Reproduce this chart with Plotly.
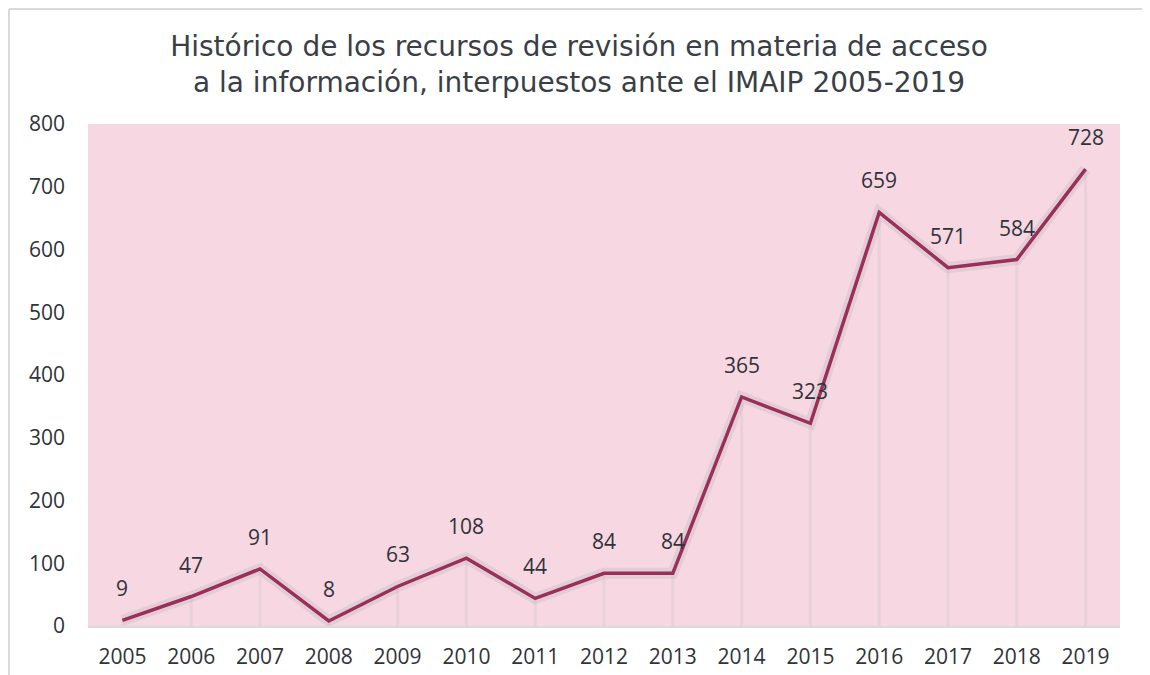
import plotly.graph_objects as go

years = ["2005", "2006", "2007", "2008", "2009", "2010", "2011", "2012",
         "2013", "2014", "2015", "2016", "2017", "2018", "2019"]
recursos = [9, 47, 91, 8, 63, 108, 44, 84, 84, 365, 323, 659, 571, 584, 728]
y_ticks = [0, 100, 200, 300, 400, 500, 600, 700, 800]

title_text = ("Histórico de los recursos de revisión en materia de acceso<br>"
              "a la información, interpuestos ante el IMAIP 2005-2019")

LINE = "#9C2E5A"
TXT = "#2F333A"

fig = go.Figure()

# drop lines from each point to the axis
drop_x, drop_y = [], []
for yr, v in zip(years, recursos):
    drop_x += [yr, yr, None]
    drop_y += [0, v, None]
fig.add_trace(go.Scatter(x=drop_x, y=drop_y, mode="lines",
                         line=dict(color="rgba(205,195,200,0.35)", width=3),
                         hoverinfo="skip", showlegend=False))

# soft glow under the line
fig.add_trace(go.Scatter(x=years, y=recursos, mode="lines",
                         line=dict(color="rgba(190,185,190,0.35)", width=11),
                         hoverinfo="skip", showlegend=False))

fig.add_trace(go.Scatter(x=years, y=recursos, mode="lines",
                         line=dict(color=LINE, width=3.5),
                         showlegend=False))

for i, v in enumerate(recursos):
    fig.add_annotation(x=i, y=v, xref="x", yref="y", text=str(v),
                       showarrow=False, yshift=32, yanchor="middle",
                       font=dict(family="Open Sans", size=21, color=TXT))

# outer frame (extends beyond the right and bottom of the view)
fig.add_shape(type="line", xref="paper", yref="paper",
              x0=-0.0766, x1=1.2, y0=1.229, y1=1.229,
              line=dict(color="#D9D9D9", width=2))
fig.add_shape(type="line", xref="paper", yref="paper",
              x0=-0.0766, x1=-0.0766, y0=1.229, y1=-0.3,
              line=dict(color="#D9D9D9", width=2))

fig.update_layout(
    width=1142, height=667,
    margin=dict(l=80, r=30, t=116, b=49),
    paper_bgcolor="white",
    plot_bgcolor="#F7D7E2",
    title=dict(text=title_text, x=0.5, xanchor="center", xref="container",
               y=1 - 47.5 / 667, yanchor="middle", yref="container",
               font=dict(family="DejaVu Sans", size=28, color="#3A3F47")),
    xaxis=dict(type="category", range=[-0.5, 14.5], showgrid=False,
               showline=True, linecolor="#D9D9D9", linewidth=2,
               ticks="", ticklabelstandoff=11, automargin=False,
               tickfont=dict(family="Open Sans", size=21, color=TXT)),
    yaxis=dict(range=[0, 800], tickvals=y_ticks, showgrid=False,
               zeroline=False, showline=False, ticks="",
               ticklabelstandoff=22, automargin=False,
               tickfont=dict(family="Open Sans", size=21, color=TXT)),
)

fig.write_html("out.html")
